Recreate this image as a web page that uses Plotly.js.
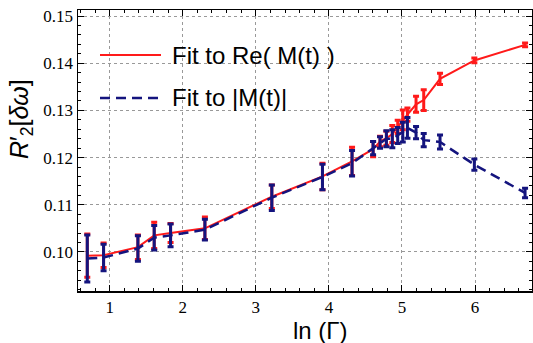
<!DOCTYPE html>
<html>
<head>
<meta charset="utf-8">
<script src="https://cdn.plot.ly/plotly-3.0.1.min.js"></script>
<style>html,body{margin:0;padding:0;background:#fff;}#chart{width:533px;height:343px;}</style>
</head>
<body>
<div id="chart"></div>
<script>
// ln(Gamma) values
var lnGamma = [0.693, 0.916, 1.386, 1.609, 1.833, 2.303, 3.219, 3.912, 4.317, 4.605, 4.700, 4.787, 4.868, 4.942, 5.011, 5.075, 5.193, 5.298, 5.521, 5.991, 6.685];
// Fit to Re(M(t))
var reFit = [0.0992, 0.0993, 0.1010, 0.1035, 0.1040, 0.1050, 0.1117, 0.1160, 0.1192, 0.1218, 0.1234, 0.1241, 0.1250, 0.1265, 0.1280, 0.1291, 0.1313, 0.1322, 0.1367, 0.1406, 0.1439];
var reErr = [0.0046, 0.0026, 0.0026, 0.0028, 0.0020, 0.0024, 0.0025, 0.0028, 0.0030, 0.0016, 0.0011, 0.0015, 0.0018, 0.0014, 0.0021, 0.0014, 0.0017, 0.0022, 0.0012, 0.0005, 0.0004];
// Fit to |M(t)|
var absFit = [0.0986, 0.0988, 0.1007, 0.1030, 0.1035, 0.1047, 0.1115, 0.1159, 0.1188, 0.1220, 0.1232, 0.1240, 0.1240, 0.1247, 0.1254, 0.1263, 0.1253, 0.1237, 0.1233, 0.1185, 0.1125];
var absErr = [0.0050, 0.0028, 0.0027, 0.0026, 0.0024, 0.0022, 0.0027, 0.0027, 0.0027, 0.0014, 0.0012, 0.0017, 0.0019, 0.0017, 0.0021, 0.0022, 0.0013, 0.0014, 0.0015, 0.0012, 0.0010];
var seriesNames = ["Fit to Re( M(t) )", "Fit to |M(t)|"];

var RED = "#ff1a1a";
var BLUE = "#14147e";

var traces = [
  {
    x: lnGamma, y: reFit, type: "scatter", mode: "lines",
    name: seriesNames[0],
    line: {color: RED, width: 2},
    error_y: {type: "data", array: reErr, visible: true, color: RED, thickness: 3, width: 3}
  },
  {
    x: lnGamma, y: absFit, type: "scatter", mode: "lines",
    name: seriesNames[1],
    line: {color: BLUE, width: 2.5, dash: "10px,6px"},
    error_y: {type: "data", array: absErr, visible: true, color: BLUE, thickness: 3, width: 3}
  }
];

var W = 533, H = 343, ML = 78, MR = 1, MT = 10, MB = 52;
var PW = W - ML - MR, PH = H - MT - MB;
function px(x) { return (x - ML) / PW; }
function py(y) { return 1 - (y - MT) / PH; }

var axisCommon = {
  showline: true, linecolor: "#000", linewidth: 1.5, mirror: "allticks",
  ticks: "inside", ticklen: 6, tickwidth: 1, tickcolor: "#000",
  showgrid: true, gridcolor: "#999999", griddash: "3px,3px", gridwidth: 1,
  zeroline: false,
  tickfont: {family: "Liberation Serif, Times New Roman, serif", size: 17, color: "#000"}
};

var layout = {
  width: W, height: H,
  margin: {l: ML, r: MR, t: MT, b: MB},
  paper_bgcolor: "#fff", plot_bgcolor: "#fff",
  showlegend: false,
  xaxis: Object.assign({}, axisCommon, {
    range: [0.566, 6.78], dtick: 1, tick0: 0,
    minor: {ticks: "inside", ticklen: 3, dtick: 0.2, tick0: 0, tickcolor: "#000", showgrid: false}
  }),
  yaxis: Object.assign({}, axisCommon, {
    range: [0.0917, 0.1513], dtick: 0.01, tick0: 0, tickformat: ".2f",
    minor: {ticks: "inside", ticklen: 3, dtick: 0.002, tick0: 0, tickcolor: "#000", showgrid: false}
  }),
  shapes: [
    {type: "line", xref: "paper", yref: "paper", x0: px(100), x1: px(161), y0: py(55), y1: py(55),
     line: {color: RED, width: 2}},
    {type: "line", xref: "paper", yref: "paper", x0: px(100), x1: px(161), y0: py(98), y1: py(98),
     line: {color: BLUE, width: 2.5, dash: "10px,6px"}}
  ],
  annotations: [
    {xref: "paper", yref: "paper", x: px(170), y: py(55), xanchor: "left", yanchor: "middle",
     text: seriesNames[0], showarrow: false,
     font: {family: "Liberation Sans, Arial, sans-serif", size: 24, color: "#000"}},
    {xref: "paper", yref: "paper", x: px(170), y: py(97), xanchor: "left", yanchor: "middle",
     text: seriesNames[1], showarrow: false,
     font: {family: "Liberation Sans, Arial, sans-serif", size: 24, color: "#000"}},
    {xref: "paper", yref: "paper", x: px(320), y: py(330), xanchor: "center", yanchor: "middle",
     text: "ln (Γ)", showarrow: false,
     font: {family: "Liberation Sans, Arial, sans-serif", size: 24, color: "#000"}},
    {xref: "paper", yref: "paper", x: px(21), y: py(119), xanchor: "center", yanchor: "middle",
     text: "<i>R</i>′<sub>2</sub>[<i>δω</i>]", showarrow: false, textangle: -90,
     font: {family: "Liberation Sans, Arial, sans-serif", size: 25, color: "#000"}}
  ]
};

Plotly.newPlot("chart", traces, layout, {displayModeBar: false, staticPlot: true});
</script>
</body>
</html>
